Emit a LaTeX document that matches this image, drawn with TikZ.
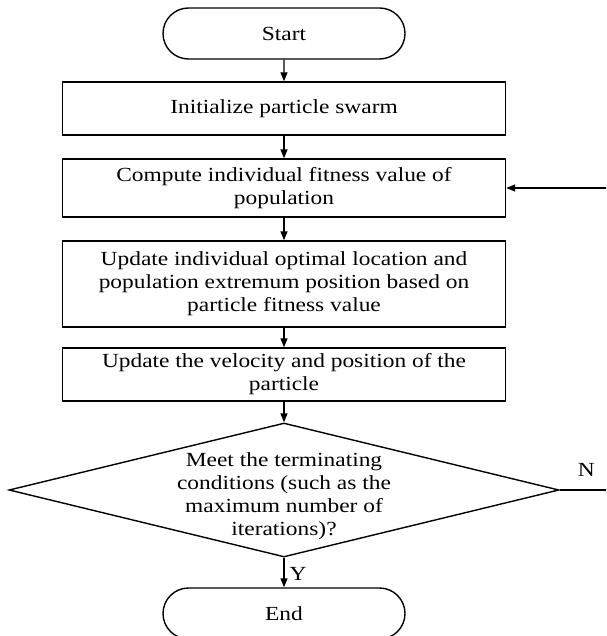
\documentclass[tikz,border=0pt]{standalone}
\usepackage{fontspec}
\setmainfont{Liberation Serif}[FakeStretch=1.17]
\usetikzlibrary{positioning,arrows.meta,shapes.geometric,shapes.misc}

\begin{document}
\begin{tikzpicture}[x=1pt,y=-1pt,font=\fontsize{20}{23}\selectfont,>={Triangle[length=9pt,width=7pt]},
  term/.style={rounded rectangle,draw,line width=1.4pt,minimum width=242pt,minimum height=51pt,inner sep=0pt},
  box/.style={draw,line width=1.4pt,align=center,minimum width=443pt,inner sep=0pt},
  dec/.style={diamond,draw,line width=1.4pt,minimum width=550pt,minimum height=134pt,inner sep=0pt},
  lab/.style={inner sep=0pt},
  flow/.style={->,line width=1.4pt}]
\fill[white] (0,0) rectangle (606,636);
\useasboundingbox (0,0) rectangle (606,636);
\clip (0,0) rectangle (606,636);
% ---------- steps ----------
\node[term] (start) at (284,33.5) {Start};
\node[box,minimum height=53pt] (init) at (284,108.5) {Initialize particle swarm};
\node[box,minimum height=58pt] (fit) at (284,188) {Compute individual fitness value of\\population};
\node[box,minimum height=86pt] (upd) at (284,284) {Update individual optimal location and\\population extremum position based on\\particle fitness value};
\node[box,minimum height=53pt] (vel) at (284,374.5) {Update the velocity and position of the\\particle};
\node[dec,label={[align=center,yshift=-6pt]center:Meet the terminating\\conditions (such as the\\maximum number of\\iterations)?}] (cond) at (284,490) {};
\node[term] (fin) at (284,613.5) {End};
\coordinate (nr) at (640,490);
% ---------- arrows ----------
\foreach \a/\b in {start/init,init/fit,fit/upd,upd/vel,vel/cond}{\draw[flow] (\a)--(\b);}
\draw[flow] (cond.south) -- node[lab,pos=0.55,right=5pt] {Y} (fin.north);
\draw[flow] (cond.east) -- node[lab,pos=0.33,above=13pt] {N} (nr) |- (fit.east);
\end{tikzpicture}
\end{document}
